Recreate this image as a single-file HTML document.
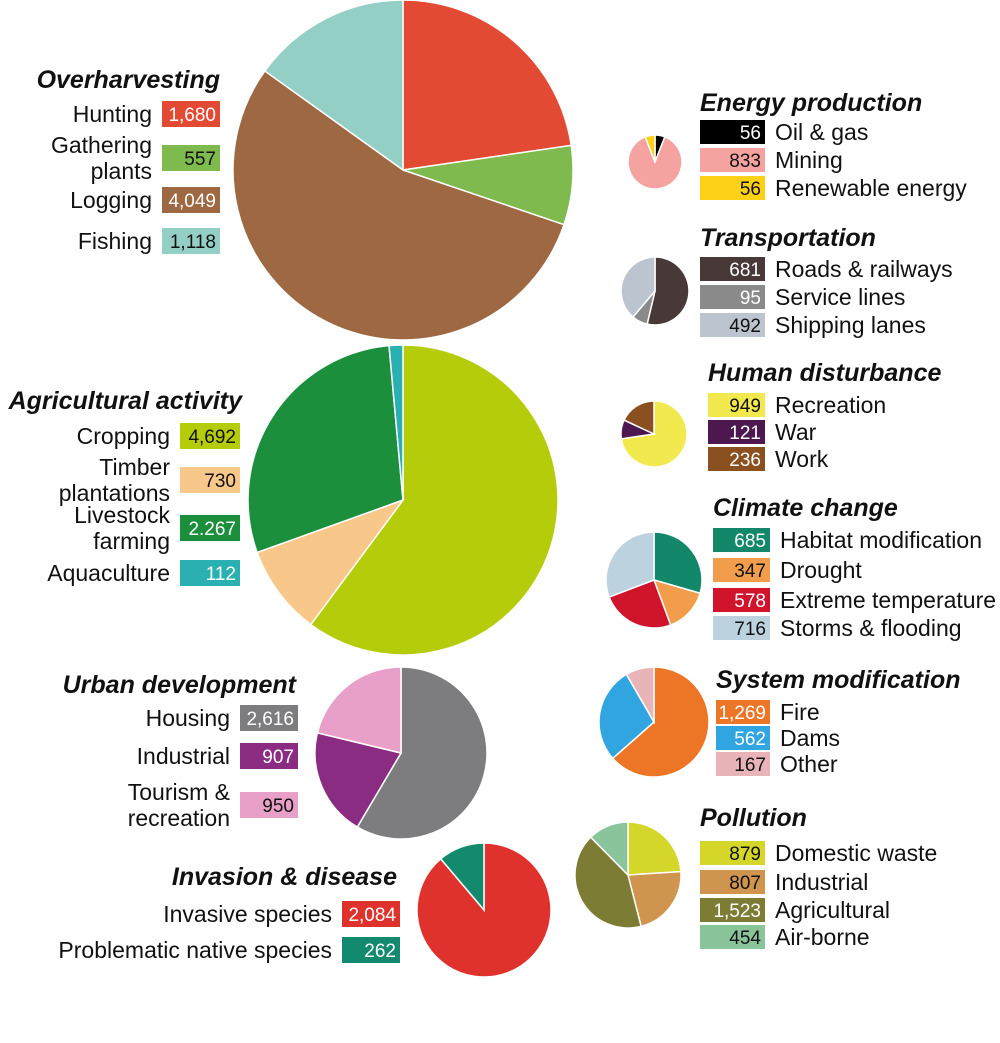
<!DOCTYPE html>
<html><head><meta charset="utf-8"><style>
html,body{margin:0;padding:0;background:#fff;}
svg{display:block;font-family:"Liberation Sans","DejaVu Sans",sans-serif;}
.t{font-weight:bold;font-style:italic;font-size:25px;fill:#111;}
.l{font-size:23px;fill:#111;}
.v{font-size:19px;}
</style></head><body>
<svg id="c" width="1000" height="1043" viewBox="0 0 1000 1043"></svg>
<script>
// ---- data ----
const overLabels=[["Hunting"],["Gathering","plants"],["Logging"],["Fishing"]];
const overValues=[1680,557,4049,1118];
const overText=["1,680","557","4,049","1,118"];
const agriLabels=[["Cropping"],["Timber","plantations"],["Livestock","farming"],["Aquaculture"]];
const agriValues=[4692,730,2267,112];
const agriText=["4,692","730","2.267","112"];
const urbanLabels=[["Housing"],["Industrial"],["Tourism &","recreation"]];
const urbanValues=[2616,907,950];
const urbanText=["2,616","907","950"];
const invLabels=[["Invasive species"],["Problematic native species"]];
const invValues=[2084,262];
const invText=["2,084","262"];
const energyLabels=["Oil & gas","Mining","Renewable energy"];
const energyValues=[56,833,56];
const transLabels=["Roads & railways","Service lines","Shipping lanes"];
const transValues=[681,95,492];
const humanLabels=["Recreation","War","Work"];
const humanValues=[949,121,236];
const climLabels=["Habitat modification","Drought","Extreme temperature","Storms & flooding"];
const climValues=[685,347,578,716];
const sysLabels=["Fire","Dams","Other"];
const sysValues=[1269,562,167];
const sysText=["1,269","562","167"];
const polLabels=["Domestic waste","Industrial","Agricultural","Air-borne"];
const polValues=[879,807,1523,454];
const polText=["879","807","1,523","454"];

const NS="http://www.w3.org/2000/svg";
const svg=document.getElementById('c');
function mk(tag,attrs,parent){const e=document.createElementNS(NS,tag);for(const k in attrs)e.setAttribute(k,attrs[k]);(parent||svg).appendChild(e);return e;}
function txt(x,y,s,cls,anchor,fill,parent){const e=mk('text',{x:x,y:y,class:cls,'text-anchor':anchor||'start'},parent);if(fill)e.setAttribute('fill',fill);e.textContent=s;return e;}
const light=c=>{const n=parseInt(c.slice(1),16);const r=n>>16,g=(n>>8)&255,b=n&255;return (0.299*r+0.587*g+0.114*b)>150;};

function pie(cx,cy,r,vals,cols,name){
  const g=mk('g',{});
  
  
  const tot=vals.reduce((a,b)=>a+b,0);let a0=0;
  vals.forEach((v,i)=>{
    const a1=a0+v/tot*2*Math.PI;
    const x0=cx+r*Math.sin(a0),y0=cy-r*Math.cos(a0),x1=cx+r*Math.sin(a1),y1=cy-r*Math.cos(a1);
    const large=(a1-a0)>Math.PI?1:0;
    const p=mk('path',{d:`M${cx},${cy}L${x0},${y0}A${r},${r} 0 ${large} 1 ${x1},${y1}Z`,fill:cols[i],stroke:'#fff','stroke-width':1.5},g);
    
    
    a0=a1;
  });
}
function leftLegend(title,titleRight,titleY,labels,texts,cols,rowsY,boxX,boxW,name){
  const g=mk('g',{});
  
  
  txt(titleRight,titleY,title,'t','end',null,g);
  labels.forEach((lab,i)=>{
    const cy=rowsY[i];
    const r=mk('rect',{x:boxX,y:cy-13,width:boxW,height:26,fill:cols[i]},g);
    
    
    txt(boxX+boxW-4,cy+7,texts[i],'v','end',light(cols[i])?'#111':'#fff',g);
    if(lab.length===1) txt(boxX-10,cy+8,lab[0],'l','end',null,g);
    else {txt(boxX-10,cy-5,lab[0],'l','end',null,g);txt(boxX-10,cy+21,lab[1],'l','end',null,g);}
  });
}
function rightLegend(title,x,titleY,labels,texts,cols,rowsY,boxW,name){
  const g=mk('g',{});
  
  
  txt(x,titleY,title,'t','start',null,g);
  labels.forEach((lab,i)=>{
    const cy=rowsY[i];
    const r=mk('rect',{x:x,y:cy-12,width:boxW,height:24,fill:cols[i]},g);
    
    
    txt(x+boxW-4,cy+7,texts[i],'v','end',light(cols[i])?'#111':'#fff',g);
    txt(x+boxW+10,cy+8,lab,'l','start',null,g);
  });
}
const fmt=v=>v.toLocaleString('en-US');

const cOver=['#e34a33','#7fba4f','#9d6842','#94cfc5'];
pie(403,170,170,overValues,cOver,'overharvesting');
leftLegend('Overharvesting',220,88,overLabels,overText,cOver,[114,158,200,241],162,58,'overharvesting');

const cAgri=['#b5cc0a','#f8c88a','#1c8f3c','#2ab0b0'];
pie(403,500,155,agriValues,cAgri,'agricultural');
leftLegend('Agricultural activity',242,409,agriLabels,agriText,cAgri,[436,480,528,573],180,60,'agricultural');

const cUrb=['#7d7d7f','#8b2c83','#e8a0c8'];
pie(401,753,86,urbanValues,cUrb,'urban');
leftLegend('Urban development',296,693,urbanLabels,urbanText,cUrb,[718,756,805],240,58,'urban');

const cInv=['#e0322c','#138a6e'];
pie(484,910,67,invValues,cInv,'invasion');
leftLegend('Invasion & disease',397,885,invLabels,invText,cInv,[914,950],342,58,'invasion');

const cEn=['#000000','#f4a3a0','#fcd116'];
pie(655,162,27,energyValues,cEn,'energy');
rightLegend('Energy production',700,111,energyLabels,energyValues.map(fmt),cEn,[132,160,188],65,'energy');

const cTr=['#483838','#8a8a8a','#bcc4d0'];
pie(655,291,34,transValues,cTr,'transportation');
rightLegend('Transportation',700,246,transLabels,transValues.map(fmt),cTr,[269,297,325],65,'transportation');

const cHu=['#f2e94e','#4d1850','#8b5020'];
pie(654,434,33,humanValues,cHu,'human');
rightLegend('Human disturbance',708,381,humanLabels,humanValues.map(fmt),cHu,[405,432,459],57,'human');

const cCl=['#12876a','#f29d4b','#d0142c','#bcd2df'];
pie(654,580,48,climValues,cCl,'climate');
rightLegend('Climate change',713,516,climLabels,climValues.map(fmt),cCl,[540,570,600,628],57,'climate');

const cSy=['#ec7625','#30a5e0','#e8b4b8'];
pie(654,722,55,sysValues,cSy,'system');
rightLegend('System modification',716,688,sysLabels,sysText,cSy,[712,738,764],54,'system');

const cPo=['#d5d62a','#cf944e','#7c7c35','#8ac49b'];
pie(628,875,53,polValues,cPo,'pollution');
rightLegend('Pollution',700,826,polLabels,polText,cPo,[853,882,910,937],65,'pollution');
</script>
</body></html>
